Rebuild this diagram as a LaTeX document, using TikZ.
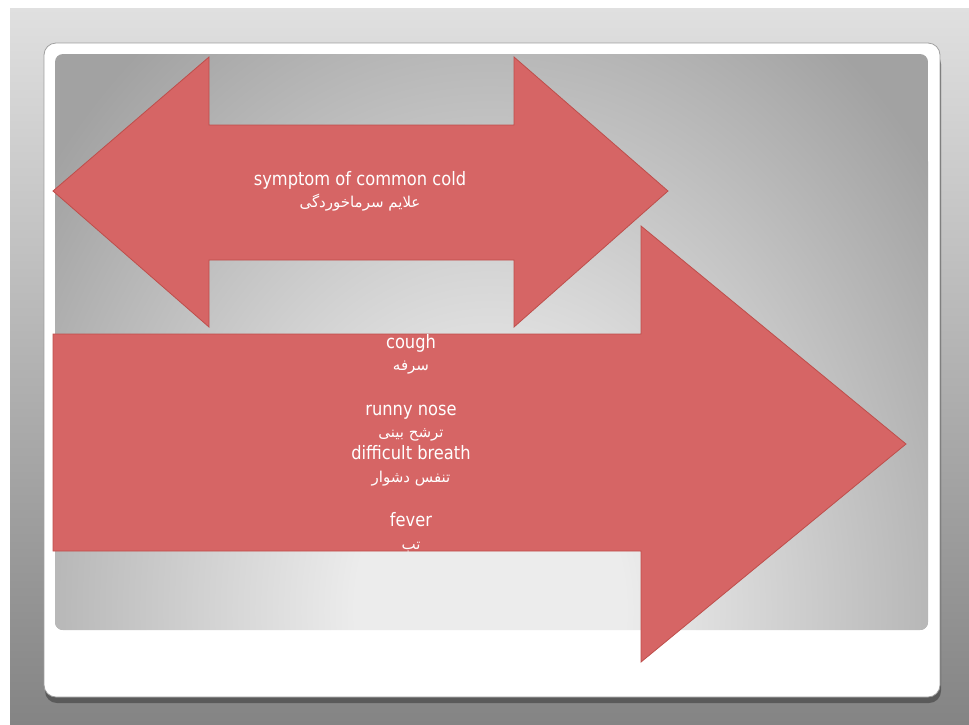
\documentclass[tikz,border=0pt]{standalone}
\usepackage{fontspec}
\setmainfont[FakeStretch=0.88]{DejaVu Sans}
\newfontfamily\arabicfont[Script=Arabic]{DejaVu Sans}
\TeXXeTstate=1
\newcommand\fatext[1]{{\arabicfont\fontsize{15}{22.3}\selectfont\beginR #1\endR}}
\definecolor{arrowfill}{RGB}{214,101,101}
\definecolor{arrowline}{RGB}{190,78,75}
\definecolor{bgtop}{RGB}{224,224,224}
\definecolor{bgmid}{RGB}{196,196,196}
\definecolor{bgbot}{RGB}{132,132,132}
\definecolor{panelin}{RGB}{236,236,236}
\definecolor{panelout}{RGB}{162,162,162}
\definecolor{cardline}{RGB}{160,160,160}
\definecolor{shadowc}{RGB}{90,90,90}
\pgfdeclareradialshading{panelshade}{\pgfpoint{0bp}{0bp}}{color(0bp)=(panelin); color(6bp)=(panelin); color(25bp)=(panelout); color(50bp)=(panelout)}
\tikzset{
  arrowshape/.style={fill=arrowfill, draw=arrowline, line width=0.8pt, line join=miter},
  label text/.style={text=white, align=center, font=\fontsize{18.5}{22.3}\selectfont, inner sep=0pt},
}
\begin{document}
\begin{tikzpicture}[x=1pt,y=-1pt]
\useasboundingbox (0,0) rectangle (969,724);
\fill[white] (0,0) rectangle (969,724);
\shade[top color=bgtop, middle color=bgmid, bottom color=bgbot] (10,8) rectangle (969,724);
% card with shadow
\fill[shadowc, rounded corners=12pt] (45,52) rectangle (941,703);
\filldraw[fill=white, draw=cardline, line width=0.8pt, rounded corners=12pt] (44,43) rectangle (940,697);
% panel
\begin{scope}
  \clip[rounded corners=8pt] (55,54) rectangle (928,630);
  \fill[panelout] (55,54) rectangle (928,630);
  \shade[shading=panelshade] (490,610) ellipse (560 and 720);
\end{scope}
% double arrow
\filldraw[arrowshape] (53,191) -- (209,57) -- (209,125) -- (514,125) -- (514,57) -- (668,191)
  -- (514,327) -- (514,260) -- (209,260) -- (209,327) -- cycle;
\node[label text] (title) at (360,191) {symptom of common cold\\ \fatext{علایم سرماخوردگی}};
% big arrow
\filldraw[arrowshape] (53,334) -- (641,334) -- (641,226) -- (906,444) -- (641,662)
  -- (641,551) -- (53,551) -- cycle;
\node[label text] (symptoms) at (411,443) {cough\\ \fatext{سرفه}\\[22.3pt]
  runny nose\\ \fatext{ترشح بینی}\\ difficult breath\\ \fatext{تنفس دشوار}\\[22.3pt]
  fever\\ \fatext{تب}};
\end{tikzpicture}
\end{document}
